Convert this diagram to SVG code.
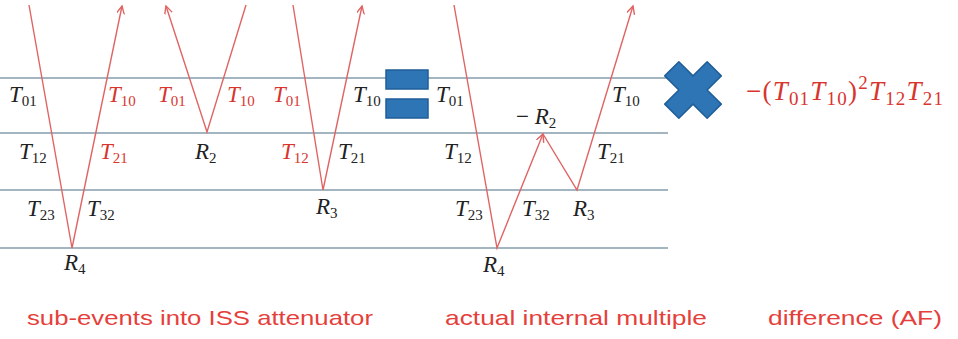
<svg xmlns="http://www.w3.org/2000/svg" width="958" height="339" viewBox="0 0 958 339">
<defs>
<style>
.layer{stroke:#a3b5c1;stroke-width:2;fill:none}
.ray{stroke:#e06464;stroke-width:1.4;fill:none}
.m{font-family:"Liberation Serif","DejaVu Serif",serif;font-size:23px;font-style:italic;fill:#222}
.r{fill:#d8352f}
.s{font-style:normal;font-size:15px}
.n{font-style:normal}
.cap{font-family:"Liberation Sans","Open Sans",sans-serif;font-size:21px;fill:#e53f3c}
.blue{fill:#2e75b6;stroke:#1f5e98;stroke-width:1.5}
</style>
<marker id="ah" markerWidth="10" markerHeight="10" refX="8" refY="4" orient="auto" markerUnits="userSpaceOnUse">
<path d="M0,0 L8,4 L0,8" fill="none" stroke="#e06464" stroke-width="1.4"/>
</marker>
</defs>
<rect width="958" height="339" fill="#fff"/>
<g id="layers">
<line class="layer" x1="0" y1="78" x2="668" y2="78"/>
<line class="layer" x1="0" y1="133" x2="668" y2="133"/>
<line class="layer" x1="0" y1="190" x2="668" y2="190"/>
<line class="layer" x1="0" y1="248" x2="668" y2="248"/>
</g>
<g id="connectors">
<polyline class="ray" points="29,5 72,248 122,6" marker-end="url(#ah)"/>
<polyline class="ray" points="246,5 207,132 166,6" marker-end="url(#ah)"/>
<polyline class="ray" points="293,5 323,190 362,6" marker-end="url(#ah)"/>
<polyline class="ray" points="454,5 497,248 543,134" marker-end="url(#ah)"/>
<polyline class="ray" points="543,134 577,190 633,6" marker-end="url(#ah)"/>
</g>
<g id="labels-sub-events">
<text class="m" x="9" y="102">T<tspan class="s" dy="4">01</tspan></text>
<text class="m r" x="108" y="102">T<tspan class="s" dy="4">10</tspan></text>
<text class="m r" x="158" y="102">T<tspan class="s" dy="4">01</tspan></text>
<text class="m r" x="227" y="102">T<tspan class="s" dy="4">10</tspan></text>
<text class="m r" x="273" y="102">T<tspan class="s" dy="4">01</tspan></text>
<text class="m" x="353" y="102">T<tspan class="s" dy="4">10</tspan></text>
<text class="m" x="19" y="159">T<tspan class="s" dy="4">12</tspan></text>
<text class="m r" x="100" y="159">T<tspan class="s" dy="4">21</tspan></text>
<text class="m" x="195" y="159">R<tspan class="s" dy="4">2</tspan></text>
<text class="m r" x="281" y="159">T<tspan class="s" dy="4">12</tspan></text>
<text class="m" x="338" y="159">T<tspan class="s" dy="4">21</tspan></text>
<text class="m" x="27" y="216">T<tspan class="s" dy="4">23</tspan></text>
<text class="m" x="87" y="216">T<tspan class="s" dy="4">32</tspan></text>
<text class="m" x="316" y="214">R<tspan class="s" dy="4">3</tspan></text>
<text class="m" x="64" y="270">R<tspan class="s" dy="4">4</tspan></text>
</g>
<g id="equals">
<rect class="blue" x="386" y="70" width="42" height="19"/>
<rect class="blue" x="386" y="99" width="42" height="19"/>
</g>
<g id="labels-actual">
<text class="m" x="436" y="102">T<tspan class="s" dy="4">01</tspan></text>
<text class="m" x="612" y="102">T<tspan class="s" dy="4">10</tspan></text>
<text class="m" x="516" y="124"><tspan class="n">− </tspan>R<tspan class="s" dy="4">2</tspan></text>
<text class="m" x="444" y="159">T<tspan class="s" dy="4">12</tspan></text>
<text class="m" x="597" y="159">T<tspan class="s" dy="4">21</tspan></text>
<text class="m" x="455" y="216">T<tspan class="s" dy="4">23</tspan></text>
<text class="m" x="522" y="216">T<tspan class="s" dy="4">32</tspan></text>
<text class="m" x="573" y="216">R<tspan class="s" dy="4">3</tspan></text>
<text class="m" x="483" y="272">R<tspan class="s" dy="4">4</tspan></text>
</g>
<g id="times">
<polygon class="blue" stroke-linejoin="round" transform="translate(693,90) rotate(45)" points="-10,-30 10,-30 10,-10 30,-10 30,10 10,10 10,30 -10,30 -10,10 -30,10 -30,-10 -10,-10"/>
</g>
<g id="formula">
<text class="m r" x="746" y="100" style="font-size:27px" textLength="197" lengthAdjust="spacing"><tspan class="n">−(</tspan>T<tspan class="s" style="font-size:19px" dy="5">01</tspan><tspan dy="-5">T</tspan><tspan class="s" style="font-size:19px" dy="5">10</tspan><tspan class="n" dy="-5">)</tspan><tspan class="s" style="font-size:19px" dy="-11">2</tspan><tspan dy="11">T</tspan><tspan class="s" style="font-size:19px" dy="5">12</tspan><tspan dy="-5">T</tspan><tspan class="s" style="font-size:19px" dy="5">21</tspan></text>
</g>
<g id="captions">
<text class="cap" x="27" y="325" textLength="346" lengthAdjust="spacingAndGlyphs">sub-events into ISS attenuator</text>
<text class="cap" x="445" y="325" textLength="262" lengthAdjust="spacingAndGlyphs">actual internal multiple</text>
<text class="cap" x="768" y="325" textLength="174" lengthAdjust="spacingAndGlyphs">difference (AF)</text>
</g>
</svg>
